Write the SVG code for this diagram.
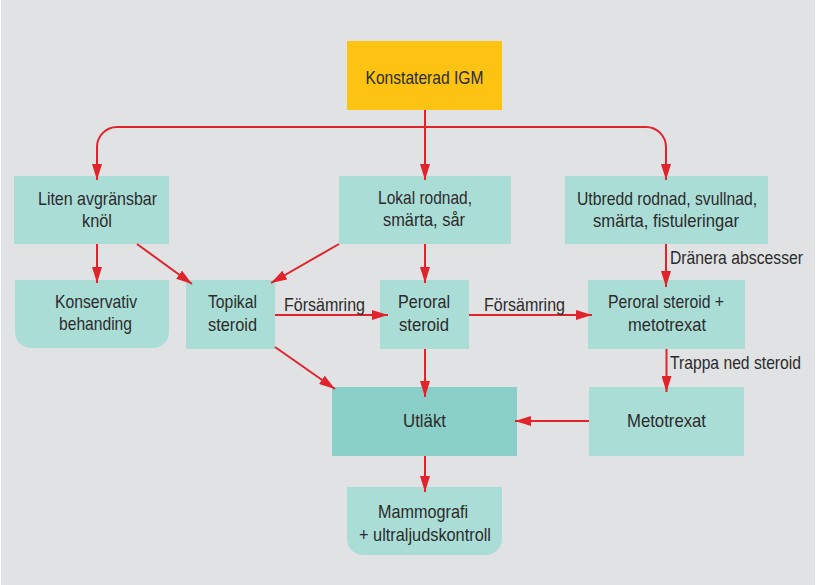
<svg xmlns="http://www.w3.org/2000/svg" width="819" height="585" viewBox="0 0 819 585">
  <style>
    .box { fill: #abddd7; }
    .dark { fill: #8bd0c8; }
    .start { fill: #fdc312; }
    text { font-family: "Liberation Sans", Arial, sans-serif; font-size: 18.5px; fill: #2b2b2b; text-anchor: middle; }
    text.lbl { text-anchor: start; }
    .edge { fill: none; stroke: #e1232b; stroke-width: 2; marker-end: url(#arrow); }
  </style>
  <defs>
    <marker id="arrow" viewBox="0 0 16 10" refX="16" refY="5" markerWidth="16" markerHeight="10" markerUnits="userSpaceOnUse" orient="auto">
      <path d="M0,0 L16,5 L0,10 Z" fill="#e1232b"/>
    </marker>
  </defs>
  <rect x="0" y="0" width="819" height="585" fill="#ffffff"/>
  <rect x="1" y="0" width="814" height="585" fill="#e1e2e4"/>

  <g id="node-igm">
    <rect class="start" x="347" y="41" width="155" height="69"/>
    <text x="424.5" y="84" textLength="118" lengthAdjust="spacingAndGlyphs">Konstaterad IGM</text>
  </g>
  <g id="node-liten">
    <rect class="box" x="14" y="176" width="155" height="68"/>
    <text x="97.5" y="205" textLength="119" lengthAdjust="spacingAndGlyphs">Liten avgränsbar</text>
    <text x="97" y="226.5" textLength="30" lengthAdjust="spacingAndGlyphs">knöl</text>
  </g>
  <g id="node-lokal">
    <rect class="box" x="339" y="176" width="172" height="68"/>
    <text x="425" y="204" textLength="94" lengthAdjust="spacingAndGlyphs">Lokal rodnad,</text>
    <text x="424" y="225.5" textLength="82" lengthAdjust="spacingAndGlyphs">smärta, sår</text>
  </g>
  <g id="node-utbredd">
    <rect class="box" x="565" y="176" width="203" height="68"/>
    <text x="667" y="205" textLength="180" lengthAdjust="spacingAndGlyphs">Utbredd rodnad, svullnad,</text>
    <text x="666" y="226.5" textLength="146" lengthAdjust="spacingAndGlyphs">smärta, fistuleringar</text>
  </g>
  <g id="node-konservativ">
    <path class="box" d="M15,280 H169 V332 A16,16 0 0 1 153,348 H31 A16,16 0 0 1 15,332 Z"/>
    <text x="96" y="308" textLength="82" lengthAdjust="spacingAndGlyphs">Konservativ</text>
    <text x="95.5" y="330" textLength="73" lengthAdjust="spacingAndGlyphs">behanding</text>
  </g>
  <g id="node-topikal">
    <rect class="box" x="186" y="280" width="89" height="69"/>
    <text x="232.5" y="308" textLength="49" lengthAdjust="spacingAndGlyphs">Topikal</text>
    <text x="232.5" y="330.5" textLength="49" lengthAdjust="spacingAndGlyphs">steroid</text>
  </g>
  <g id="node-peroral">
    <rect class="box" x="380" y="280" width="89" height="69"/>
    <text x="424" y="308" textLength="52" lengthAdjust="spacingAndGlyphs">Peroral</text>
    <text x="424" y="330.5" textLength="50" lengthAdjust="spacingAndGlyphs">steroid</text>
  </g>
  <g id="node-peroral-met">
    <rect class="box" x="588" y="280" width="157" height="69"/>
    <text x="666" y="308" textLength="116" lengthAdjust="spacingAndGlyphs">Peroral steroid +</text>
    <text x="667" y="330.5" textLength="78" lengthAdjust="spacingAndGlyphs">metotrexat</text>
  </g>
  <g id="node-utlakt">
    <rect class="dark" x="332" y="387" width="185" height="69"/>
    <text x="424.5" y="426.5" textLength="43" lengthAdjust="spacingAndGlyphs">Utläkt</text>
  </g>
  <g id="node-metotrexat">
    <rect class="box" x="589" y="387" width="155" height="69"/>
    <text x="666.5" y="426.5" textLength="79" lengthAdjust="spacingAndGlyphs">Metotrexat</text>
  </g>
  <g id="node-mammografi">
    <path class="box" d="M347,487 H502 V539 A16,16 0 0 1 486,555 H363 A16,16 0 0 1 347,539 Z"/>
    <text x="423" y="517.5" textLength="90" lengthAdjust="spacingAndGlyphs">Mammografi</text>
    <text x="425" y="540.5" textLength="132" lengthAdjust="spacingAndGlyphs">+ ultraljudskontroll</text>
  </g>

  <g id="connectors">
    <path class="edge" d="M425,110 V180"/>
    <path class="edge" d="M425,127 H117 A20,20 0 0 0 97,147 V180"/>
    <path class="edge" d="M425,127 H646 A20,20 0 0 1 666,147 V180"/>
    <path class="edge" d="M97,244 V283"/>
    <path class="edge" d="M137,244 L192,284"/>
    <path class="edge" d="M339,244 L271,283"/>
    <path class="edge" d="M425,244 V283"/>
    <path class="edge" d="M666,244 V287"/>
    <path class="edge" d="M275,315 H388"/>
    <path class="edge" d="M469,315 H592"/>
    <path class="edge" d="M275,347 L335,389"/>
    <path class="edge" d="M425,349 V397"/>
    <path class="edge" d="M666.5,349 V392"/>
    <path class="edge" d="M589,421 H515"/>
    <path class="edge" d="M425,456 V492"/>
    <text class="lbl" x="284" y="311" textLength="81" lengthAdjust="spacingAndGlyphs">Försämring</text>
    <text class="lbl" x="484" y="311" textLength="81" lengthAdjust="spacingAndGlyphs">Försämring</text>
    <text class="lbl" x="670" y="264" textLength="133" lengthAdjust="spacingAndGlyphs">Dränera abscesser</text>
    <text class="lbl" x="670" y="369" textLength="131" lengthAdjust="spacingAndGlyphs">Trappa ned steroid</text>
  </g>
</svg>
